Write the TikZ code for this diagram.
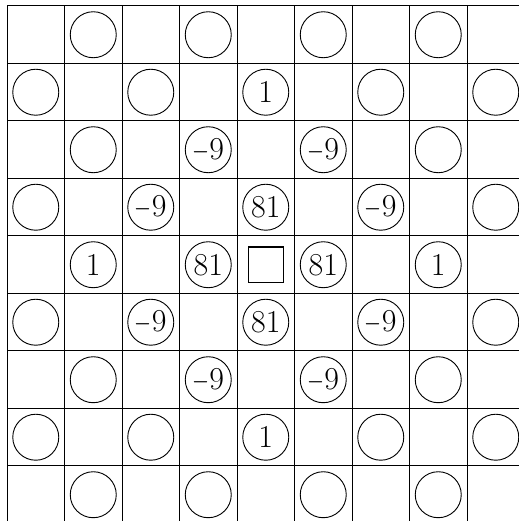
\documentclass[tikz,border=0pt]{standalone}
\usepackage{graphicx}
\begin{document}
\begin{tikzpicture}[
  gridline/.style={line width=0.5pt, black},
  disc/.style={circle, draw, line width=0.45pt, minimum size=0.8cm, inner sep=0pt,
    font=\fontsize{15.8}{19}\selectfont},
  centerbox/.style={rectangle, draw, line width=0.7pt, minimum size=0.61cm, inner sep=0pt}
]
\newcommand{\mneg}{\scalebox{0.75}[1]{$-$}}
\useasboundingbox (-0.122,0.104) rectangle (8.904,-8.957);
\clip (-0.122,0.104) rectangle (8.904,-8.957);
% grid
\foreach \i in {0,...,8} {
  \draw[gridline] (\i,0) -- (\i,-9.5);
  \draw[gridline] (0,-\i) -- (9.5,-\i);
}
% empty circles (col,row)
\foreach \c/\r in {2/1,4/1,6/1,8/1,
                   1/2,3/2,7/2,9/2,
                   2/3,8/3,
                   1/4,9/4,
                   1/6,9/6,
                   2/7,8/7,
                   1/8,3/8,7/8,9/8,
                   2/9,4/9,6/9,8/9} {
  \node[disc] (n-\c-\r) at (\c-0.5,0.5-\r) {};
}
% labelled circles
\node[disc] (n-5-2) at (4.5,-1.5) {1};
\node[disc] (n-4-3) at (3.5,-2.5) {\mneg9};
\node[disc] (n-6-3) at (5.5,-2.5) {\mneg9};
\node[disc] (n-3-4) at (2.5,-3.5) {\mneg9};
\node[disc] (n-5-4) at (4.5,-3.5) {81};
\node[disc] (n-7-4) at (6.5,-3.5) {\mneg9};
\node[disc] (n-2-5) at (1.5,-4.5) {1};
\node[disc] (n-4-5) at (3.5,-4.5) {81};
\node[centerbox] (n-5-5) at (4.5,-4.5) {};
\node[disc] (n-6-5) at (5.5,-4.5) {81};
\node[disc] (n-8-5) at (7.5,-4.5) {1};
\node[disc] (n-3-6) at (2.5,-5.5) {\mneg9};
\node[disc] (n-5-6) at (4.5,-5.5) {81};
\node[disc] (n-7-6) at (6.5,-5.5) {\mneg9};
\node[disc] (n-4-7) at (3.5,-6.5) {\mneg9};
\node[disc] (n-6-7) at (5.5,-6.5) {\mneg9};
\node[disc] (n-5-8) at (4.5,-7.5) {1};
\end{tikzpicture}
\end{document}
